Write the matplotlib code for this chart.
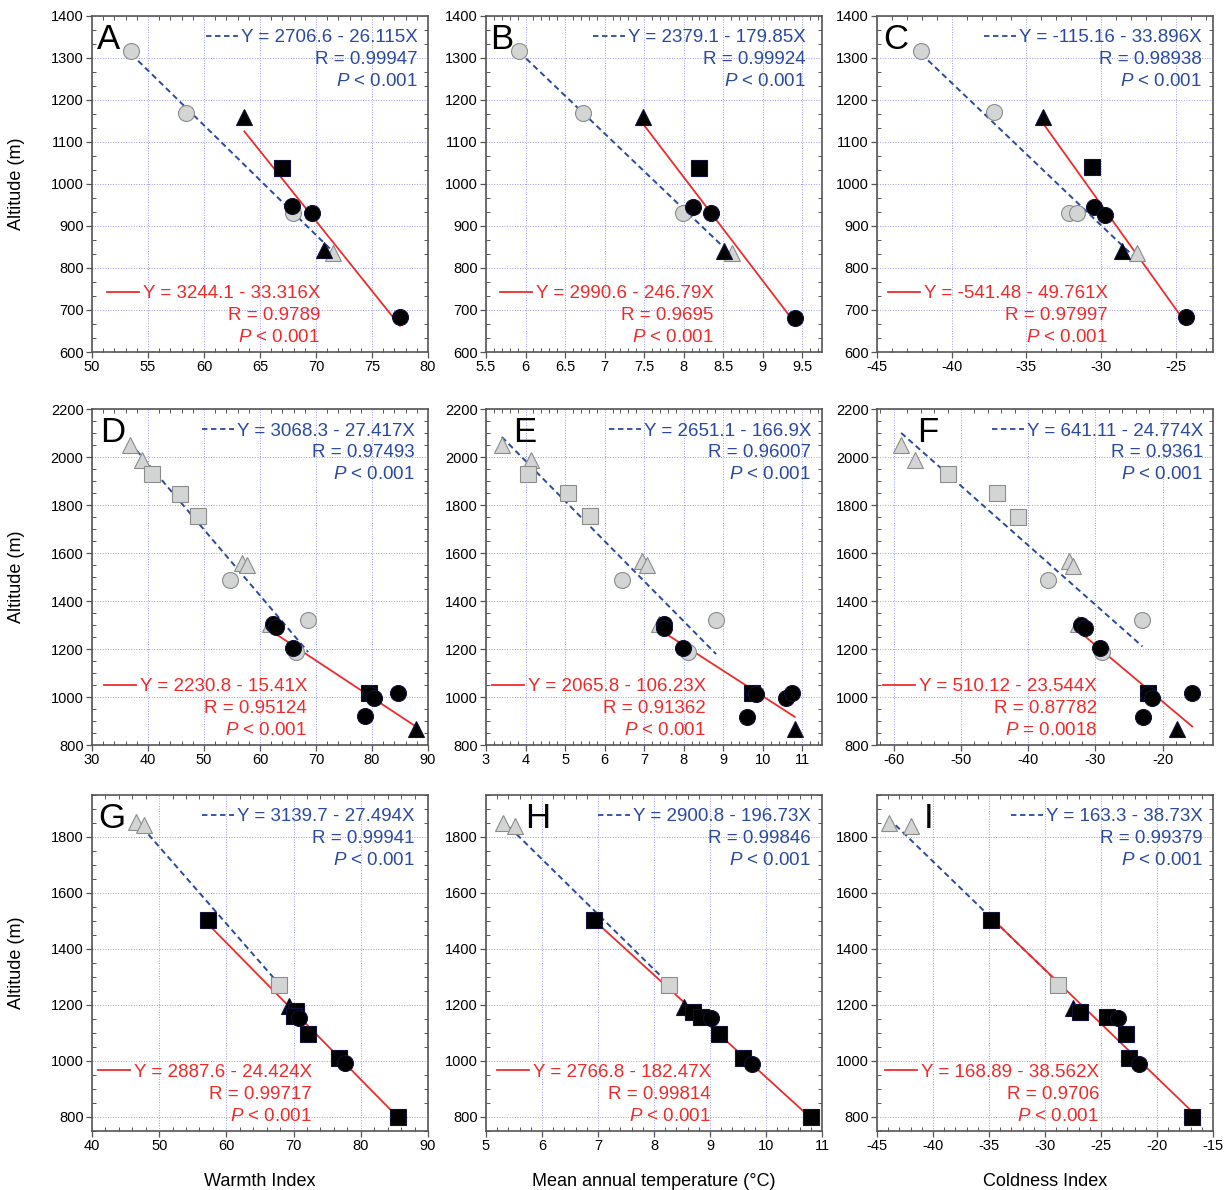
import matplotlib
matplotlib.use("Agg")
import matplotlib.pyplot as plt
from matplotlib.ticker import MultipleLocator, AutoMinorLocator, FuncFormatter

plt.rcParams['font.family'] = ['Liberation Sans', 'DejaVu Sans']
plt.rcParams['mathtext.fontset'] = 'custom'
plt.rcParams['mathtext.rm'] = 'Liberation Sans'
plt.rcParams['mathtext.it'] = 'Liberation Sans:italic'

# ---- data ----
# grey points -> dashed blue fit, black points -> solid red fit
# fits are (intercept, slope, R, P text) for  Y = a - bX

a_grey_x = [53.5, 58.4, 67.95, 71.5]
a_grey_y = [1317, 1170, 930, 835]
a_grey_shape = ['circle', 'circle', 'circle', 'triangle']
a_black_x = [63.6, 67.0, 67.9, 69.6, 70.7, 77.5]
a_black_y = [1160, 1039, 948, 930, 843, 684]
a_black_shape = ['triangle', 'square', 'circle', 'circle', 'triangle', 'circle']
a_blue_fit = (2706.6, 26.115, 0.99947, '< 0.001')
a_red_fit = (3244.1, 33.316, 0.9789, '< 0.001')

b_grey_x = [5.92, 6.73, 7.99, 8.61]
b_grey_y = [1317, 1169, 930, 835]
b_grey_shape = ['circle', 'circle', 'circle', 'triangle']
b_black_x = [7.49, 8.20, 8.12, 8.35, 8.51, 9.41]
b_black_y = [1160, 1039, 946, 930, 841, 682]
b_black_shape = ['triangle', 'square', 'circle', 'circle', 'triangle', 'circle']
b_blue_fit = (2379.1, 179.85, 0.99924, '< 0.001')
b_red_fit = (2990.6, 246.79, 0.9695, '< 0.001')

c_grey_x = [-42.05, -37.17, -32.13, -31.6, -27.56]
c_grey_y = [1317, 1171, 930, 930, 835]
c_grey_shape = ['circle', 'circle', 'circle', 'circle', 'triangle']
c_black_x = [-33.87, -30.57, -30.48, -29.75, -28.59, -24.3]
c_black_y = [1160, 1040, 946, 926, 840, 684]
c_black_shape = ['triangle', 'square', 'circle', 'circle', 'triangle', 'circle']
c_blue_fit = (-115.16, 33.896, 0.98938, '< 0.001')
c_red_fit = (-541.48, 49.761, 0.97997, '< 0.001')

mid_grey_shape = ['triangle', 'triangle', 'square', 'square', 'square', 'triangle',
                  'triangle', 'circle', 'circle', 'triangle', 'circle']
mid_black_shape = ['circle', 'circle', 'circle', 'square', 'circle', 'circle',
                   'circle', 'circle', 'triangle']

d_grey_x = [36.85, 38.99, 40.77, 45.65, 48.9, 56.8, 57.6, 54.6, 68.6, 61.7, 66.5]
d_grey_y = [2049, 1986, 1931, 1847, 1753, 1560, 1549, 1486, 1322, 1306, 1187]
d_black_x = [62.3, 62.9, 65.9, 79.4, 79.6, 80.4, 84.7, 78.7, 87.9]
d_black_y = [1306, 1292, 1204, 1018, 1014, 996, 1018, 919, 865]
d_blue_fit = (3068.3, 27.417, 0.97493, '< 0.001')
d_red_fit = (2230.8, 15.41, 0.95124, '< 0.001')

e_grey_x = [3.40, 4.14, 4.06, 5.08, 5.63, 6.94, 7.06, 6.45, 8.82, 7.38, 8.1]
e_grey_y = [2049, 1986, 1931, 1850, 1753, 1565, 1549, 1486, 1319, 1306, 1187]
e_black_x = [7.51, 7.51, 7.99, 9.73, 9.84, 10.6, 10.75, 9.6, 10.81]
e_black_y = [1306, 1289, 1204, 1018, 1014, 996, 1018, 917, 865]
e_blue_fit = (2651.1, 166.9, 0.96007, '< 0.001')
e_red_fit = (2065.8, 106.23, 0.91362, '< 0.001')

f_grey_x = [-58.9, -56.8, -52.0, -44.6, -41.5, -33.9, -33.4, -37.05, -23.0, -32.6, -29.0]
f_grey_y = [2049, 1986, 1928, 1850, 1750, 1565, 1546, 1486, 1319, 1306, 1187]
f_black_x = [-32.1, -31.6, -29.3, -22.2, -22.2, -21.6, -15.6, -22.96, -17.9]
f_black_y = [1301, 1289, 1204, 1018, 1014, 996, 1018, 917, 865]
f_blue_fit = (641.11, 24.774, 0.9361, '< 0.001')
f_red_fit = (510.12, 23.544, 0.87782, '= 0.0018')

low_grey_shape = ['triangle', 'triangle', 'square']
low_black_shape = ['square', 'triangle', 'square', 'square', 'circle', 'square',
                   'square', 'circle', 'square']

g_grey_x = [46.5, 47.7, 67.9]
g_grey_y = [1852, 1842, 1271]
g_black_x = [57.3, 69.3, 70.3, 70.0, 70.8, 72.2, 76.7, 77.7, 85.6]
g_black_y = [1502, 1196, 1178, 1162, 1154, 1098, 1012, 991, 801]
g_blue_fit = (3139.7, 27.494, 0.99941, '< 0.001')
g_red_fit = (2887.6, 24.424, 0.99717, '< 0.001')

h_grey_x = [5.30, 5.52, 8.27]
h_grey_y = [1848, 1838, 1271]
h_black_x = [6.93, 8.54, 8.69, 8.83, 9.01, 9.16, 9.58, 9.75, 10.81]
h_black_y = [1502, 1194, 1176, 1158, 1154, 1098, 1012, 988, 801]
h_blue_fit = (2900.8, 196.73, 0.99846, '< 0.001')
h_red_fit = (2766.8, 182.47, 0.99814, '< 0.001')

i_grey_x = [-43.96, -42.0, -28.8]
i_grey_y = [1848, 1838, 1271]
i_black_x = [-34.8, -27.5, -26.9, -24.5, -23.5, -22.8, -22.5, -21.6, -16.9]
i_black_y = [1502, 1190, 1176, 1158, 1154, 1098, 1012, 988, 801]
i_blue_fit = (163.3, 38.73, 0.99379, '< 0.001')
i_red_fit = (168.89, 38.562, 0.9706, '< 0.001')

x_titles = ['Warmth Index', 'Mean annual temperature (\u00b0C)', 'Coldness Index']

# ---- styling ----
BLUE = '#2a4aa0'
RED = '#ee2b2b'
MARKERS = {'circle': 'o', 'square': 's', 'triangle': '^'}
SIZES = {'circle': 11.5, 'square': 11.8, 'triangle': 11.5}


def fmt_num(v, pos=None):
    return '{:g}'.format(round(v, 6))


def draw_points(ax, xs, ys, shapes, face, edge, z):
    for x, y, s in zip(xs, ys, shapes):
        ax.plot(x, y, linestyle='none', marker=MARKERS[s], markersize=SIZES[s],
                markerfacecolor=face, markeredgecolor=edge, markeredgewidth=0.8,
                zorder=z)


def fit_line(ax, xs, fit, **kw):
    a, b = fit[0], fit[1]
    x0, x1 = min(xs), max(xs)
    ax.plot([x0, x1], [a - b * x0, a - b * x1], **kw)


def fit_text(ax, fit, xr, ys, color):
    lines = ['Y = {} - {}X'.format(fmt_num(fit[0]), fmt_num(fit[1])),
             'R = {}'.format(fmt_num(fit[2])),
             '$P$ {}'.format(fit[3])]
    out = []
    for txt, y in zip(lines, ys):
        out.append(ax.text(xr, y, txt, transform=ax.transAxes, ha='right',
                           va='baseline', fontsize=13.5, color=color, zorder=6))
    return out[0]


def panel(ax, letter, letter_x, grey, black, blue_fit, red_fit,
          xlim, xstep, ylim, ystep, yminor, red_right, blue_right):
    gx, gy, gs = grey
    bx, by, bs = black
    fit_line(ax, gx, blue_fit, color=BLUE, lw=1.4, linestyle=(0, (3, 2)), zorder=2)
    fit_line(ax, bx, red_fit, color=RED, lw=1.3, zorder=2.5)
    draw_points(ax, gx, gy, gs, '#d3d5d5', '#8c8c8c', 3)
    draw_points(ax, bx, by, bs, 'black', '#10103a', 4)

    ax.set_xlim(*xlim)
    ax.set_ylim(*ylim)
    ax.xaxis.set_major_locator(MultipleLocator(xstep))
    ax.yaxis.set_major_locator(MultipleLocator(ystep))
    ax.xaxis.set_minor_locator(AutoMinorLocator())
    ax.yaxis.set_minor_locator(AutoMinorLocator(yminor))
    ax.xaxis.set_major_formatter(FuncFormatter(fmt_num))
    ax.yaxis.set_major_formatter(FuncFormatter(fmt_num))
    ax.tick_params(which='major', direction='out', length=4, width=0.9,
                   labelsize=10.5, color='#555555', pad=2)
    ax.tick_params(which='minor', direction='in', length=3, width=0.7,
                   top=True, right=True, color='#555555')
    ax.grid(True, which='major', color='#9a9aee', linestyle=':', lw=0.7)
    for sp in ax.spines.values():
        sp.set_color('#555555')
        sp.set_linewidth(1.2)

    ax.text(letter_x, 0.903, letter, transform=ax.transAxes, fontsize=25,
            ha='left', va='baseline', zorder=6)
    tb = fit_text(ax, blue_fit, blue_right, [0.921, 0.856, 0.792], BLUE)
    tr = fit_text(ax, red_fit, red_right, [0.16, 0.095, 0.03], RED)
    return tb, tr


fig = plt.figure(figsize=(12.31, 11.90), dpi=100)
col_left = [0.0747, 0.3948, 0.7124]
row_bottom = [0.7042, 0.3739, 0.0496]
w, h = 0.273, 0.2824
axes = [[fig.add_axes([col_left[c], row_bottom[r], w, h]) for c in range(3)]
        for r in range(3)]

samples = []
samples.append((axes[0][0],) + panel(axes[0][0], 'A', 0.015,
    (a_grey_x, a_grey_y, a_grey_shape), (a_black_x, a_black_y, a_black_shape),
    a_blue_fit, a_red_fit, (50, 80), 5, (600, 1400), 100, 3, 0.679, 0.970))
samples.append((axes[0][1],) + panel(axes[0][1], 'B', 0.012,
    (b_grey_x, b_grey_y, b_grey_shape), (b_black_x, b_black_y, b_black_shape),
    b_blue_fit, b_red_fit, (5.5, 9.75), 0.5, (600, 1400), 100, 3, 0.678, 0.952))
samples.append((axes[0][2],) + panel(axes[0][2], 'C', 0.018,
    (c_grey_x, c_grey_y, c_grey_shape), (c_black_x, c_black_y, c_black_shape),
    c_blue_fit, c_red_fit, (-45, -22.5), 5, (600, 1400), 100, 3, 0.688, 0.967))
samples.append((axes[1][0],) + panel(axes[1][0], 'D', 0.024,
    (d_grey_x, d_grey_y, mid_grey_shape), (d_black_x, d_black_y, mid_black_shape),
    d_blue_fit, d_red_fit, (30, 90), 10, (800, 2200), 200, 4, 0.640, 0.961))
samples.append((axes[1][1],) + panel(axes[1][1], 'E', 0.080,
    (e_grey_x, e_grey_y, mid_grey_shape), (e_black_x, e_black_y, mid_black_shape),
    e_blue_fit, e_red_fit, (3, 11.5), 1, (800, 2200), 200, 4, 0.654, 0.967))
samples.append((axes[1][2],) + panel(axes[1][2], 'F', 0.120,
    (f_grey_x, f_grey_y, mid_grey_shape), (f_black_x, f_black_y, mid_black_shape),
    f_blue_fit, f_red_fit, (-62.5, -12.5), 10, (800, 2200), 200, 4, 0.655, 0.970))
samples.append((axes[2][0],) + panel(axes[2][0], 'G', 0.018,
    (g_grey_x, g_grey_y, low_grey_shape), (g_black_x, g_black_y, low_black_shape),
    g_blue_fit, g_red_fit, (40, 90), 10, (750, 1950), 200, 4, 0.654, 0.961))
samples.append((axes[2][1],) + panel(axes[2][1], 'H', 0.116,
    (h_grey_x, h_grey_y, low_grey_shape), (h_black_x, h_black_y, low_black_shape),
    h_blue_fit, h_red_fit, (5, 11), 1, (750, 1950), 200, 4, 0.669, 0.967))
samples.append((axes[2][2],) + panel(axes[2][2], 'I', 0.140,
    (i_grey_x, i_grey_y, low_grey_shape), (i_black_x, i_black_y, low_black_shape),
    i_blue_fit, i_red_fit, (-45, -15), 5, (750, 1950), 200, 4, 0.661, 0.970))

for r in range(3):
    axes[r][0].set_ylabel('Altitude (m)', fontsize=13)
    axes[r][0].yaxis.set_label_coords(-0.2, 0.5)
for c in range(3):
    axes[2][c].set_xlabel(x_titles[c], fontsize=13)
    axes[2][c].xaxis.set_label_coords(0.5, -0.125)

# little line samples in front of the equations
fig.canvas.draw()
renderer = fig.canvas.get_renderer()
for ax, tb, tr in samples:
    inv = ax.transAxes.inverted()
    for t, color, ls, gap in ((tb, BLUE, (0, (3, 2)), 3), (tr, RED, '-', 4)):
        bb = t.get_window_extent(renderer)
        x_end = inv.transform((bb.x0 - gap, 0))[0]
        x_start = inv.transform((bb.x0 - gap - 32, 0))[0]
        y = t.get_position()[1] + 0.02
        ax.plot([x_start, x_end], [y, y], transform=ax.transAxes, color=color,
                lw=1.3, linestyle=ls, clip_on=False, zorder=6)

fig.savefig('out.png', dpi=100)
